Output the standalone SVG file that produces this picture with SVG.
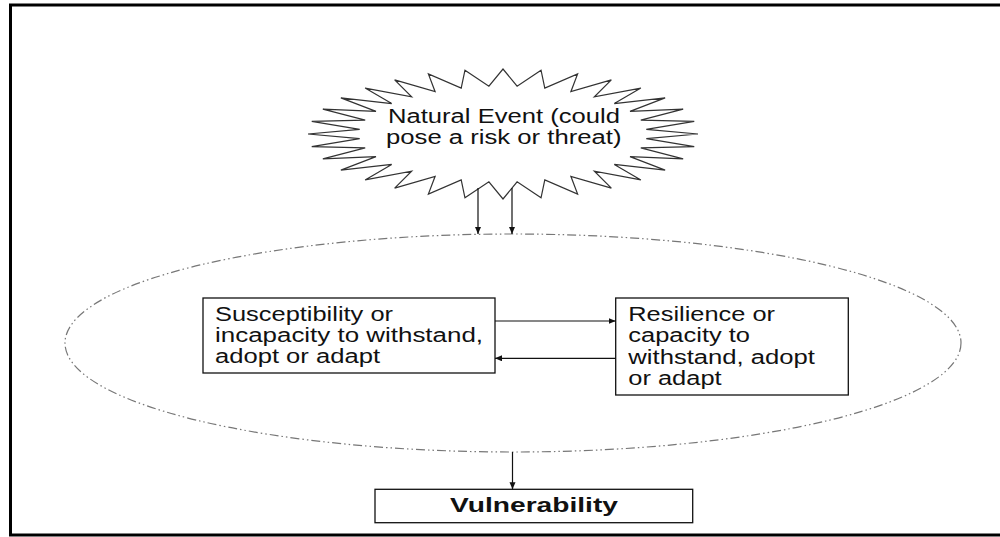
<svg xmlns="http://www.w3.org/2000/svg" width="1000" height="537" viewBox="0 0 1000 537">
<style>
.t{font-family:"Liberation Sans",Arial,sans-serif;font-size:20px;fill:#111}
.b{font-weight:bold}
.box{fill:#fff;stroke:#111;stroke-width:1.3}
.con{stroke:#111;stroke-width:1.2;fill:none}
</style>
<defs>
<marker id="ah" markerUnits="userSpaceOnUse" markerWidth="8" markerHeight="7" refX="7" refY="3" orient="auto">
<path d="M0,0 L7,3 L0,6 z" fill="#111"/>
</marker>
</defs>
<rect x="0" y="0" width="1000" height="537" fill="#fff"/>
<rect x="10.5" y="5" width="1000" height="530" fill="none" stroke="#000" stroke-width="3"/>
<g id="context">
<ellipse cx="513" cy="343" rx="448" ry="109" fill="none" stroke="#777" stroke-width="1.2" stroke-dasharray="9 3 1.5 3 1.5 3"/>
</g>
<g id="event">
<polygon fill="#fff" stroke="#333" stroke-width="1.2" stroke-linejoin="miter" points="698,134 646.31,129.30 694.25,121.32 640.80,120.07 683.16,109.13 630.00,111.37 665.14,97.89 614.31,103.55 640.89,88.04 594.35,96.90 611.34,79.95 570.88,91.67 577.62,73.95 544.80,88.07 541.04,70.25 517.11,86.23 503,69 488.89,86.23 464.96,70.25 461.20,88.07 428.38,73.95 435.12,91.67 394.66,79.95 411.65,96.90 365.11,88.04 391.69,103.55 340.86,97.89 376.00,111.37 322.84,109.13 365.20,120.07 311.75,121.32 359.69,129.30 308,134 359.69,138.70 311.75,146.68 365.20,147.93 322.84,158.87 376.00,156.63 340.86,170.11 391.69,164.45 365.11,179.96 411.65,171.10 394.66,188.05 435.12,176.33 428.38,194.05 461.20,179.93 464.96,197.75 488.89,181.77 503,199 517.11,181.77 541.04,197.75 544.80,179.93 577.62,194.05 570.88,176.33 611.34,188.05 594.35,171.10 640.89,179.96 614.31,164.45 665.14,170.11 630.00,156.63 683.16,158.87 640.80,147.93 694.25,146.68 646.31,138.70"/>
<text class="t" x="388" y="123" textLength="232" lengthAdjust="spacingAndGlyphs">Natural Event (could</text>
<text class="t" x="386" y="143.5" textLength="235.5" lengthAdjust="spacingAndGlyphs">pose a risk or threat)</text>
</g>
<g id="susceptibility">
<rect class="box" x="203" y="298" width="292" height="75"/>
<text class="t" x="215" y="320.7" textLength="178" lengthAdjust="spacingAndGlyphs">Susceptibility or</text>
<text class="t" x="215" y="341.7" textLength="268" lengthAdjust="spacingAndGlyphs">incapacity to withstand,</text>
<text class="t" x="215" y="362.7" textLength="165" lengthAdjust="spacingAndGlyphs">adopt or adapt</text>
</g>
<g id="resilience">
<rect class="box" x="615.7" y="298" width="232.6" height="97"/>
<text class="t" x="628.3" y="320.7" textLength="146.7" lengthAdjust="spacingAndGlyphs">Resilience or</text>
<text class="t" x="628.3" y="342" textLength="121.7" lengthAdjust="spacingAndGlyphs">capacity to</text>
<text class="t" x="628.3" y="363.5" textLength="186.7" lengthAdjust="spacingAndGlyphs">withstand, adopt</text>
<text class="t" x="628.3" y="385" textLength="93.3" lengthAdjust="spacingAndGlyphs">or adapt</text>
</g>
<g id="vulnerability">
<rect class="box" x="375" y="489.3" width="317.7" height="33.4"/>
<text class="t b" x="450" y="512" textLength="168" lengthAdjust="spacingAndGlyphs">Vulnerability</text>
</g>
<g id="connectors">
<line class="con" x1="478" y1="188" x2="478" y2="234" marker-end="url(#ah)"/>
<line class="con" x1="512" y1="188" x2="512" y2="234" marker-end="url(#ah)"/>
<line class="con" x1="495" y1="321" x2="615.7" y2="321" marker-end="url(#ah)"/>
<line class="con" x1="615.7" y1="358.3" x2="495" y2="358.3" marker-end="url(#ah)"/>
<line class="con" x1="512.5" y1="452" x2="512.5" y2="489.3" marker-end="url(#ah)"/>
</g>
</svg>
